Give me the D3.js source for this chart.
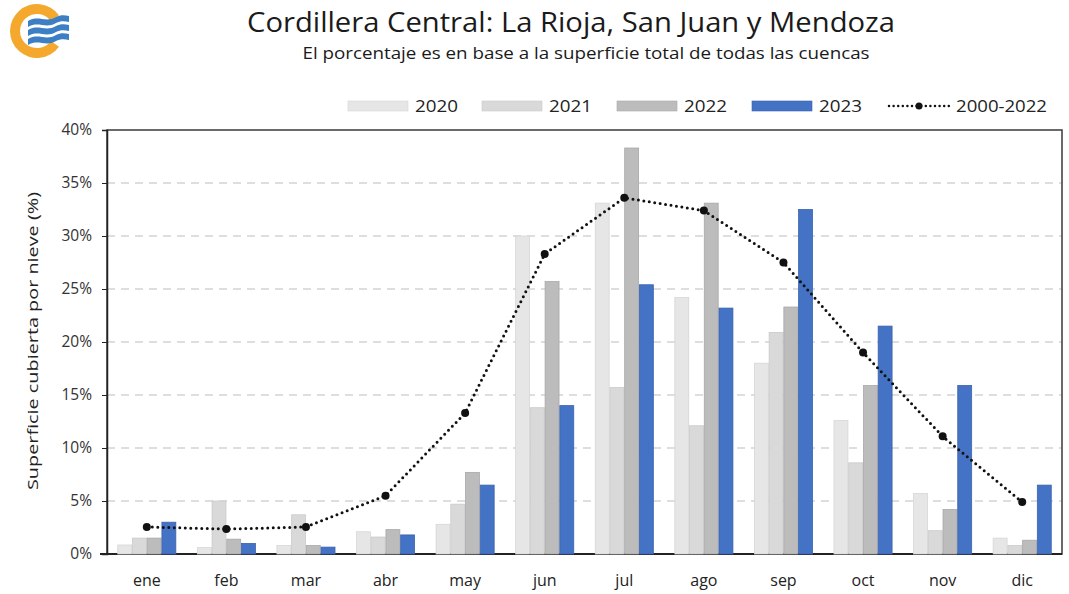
<!DOCTYPE html>
<html><head><meta charset="utf-8">
<script src="https://cdn.jsdelivr.net/npm/d3@7"></script>
<style>body{margin:0;background:#fff;}svg{display:block;}</style>
</head><body>
<svg id="c" width="1069" height="594"></svg>
<script>
const months = ["ene","feb","mar","abr","may","jun","jul","ago","sep","oct","nov","dic"];
const seriesNames = ["2020","2021","2022","2023"];
const v2020 = [0.85,0.6,0.8,2.1,2.8,30.0,33.1,24.2,18.0,12.6,5.7,1.5];
const v2021 = [1.5,5.0,3.7,1.6,4.7,13.8,15.7,12.1,20.9,8.6,2.2,0.8];
const v2022 = [1.5,1.4,0.8,2.3,7.7,25.7,38.3,33.1,23.3,15.9,4.2,1.3];
const v2023 = [3.0,1.0,0.65,1.8,6.5,14.0,25.4,23.2,32.5,21.5,15.9,6.5];
const avg = [2.55,2.35,2.55,5.5,13.3,28.3,33.6,32.4,27.5,19.0,11.1,4.9];
const yTicks = [0,5,10,15,20,25,30,35,40];
const lineName = "2000-2022";

const fills = ["#e6e6e6","#d9d9d9","#bcbcbc","#4472c4"];
const strokes = ["#d6d6d6","#cacaca","#a8a8a8","#3a63ad"];
const seriesVals = [v2020,v2021,v2022,v2023];

const svg = d3.select("#c");
const L=107,R=1062,T=130,B=554;
const x0 = d3.scaleBand().domain(months).range([L,R]).paddingInner(0.26).paddingOuter(0.13);
const x1 = d3.scaleBand().domain(seriesNames).range([0,x0.bandwidth()]);
const y = d3.scaleLinear().domain([0,40]).range([B,T]);

// logo
const lg = svg.append("g");
lg.append("path").attr("d", d3.arc()({innerRadius:17,outerRadius:27,startAngle:0.62,endAngle:2*Math.PI-0.62}))
  .attr("transform","translate(37,31) rotate(90)").attr("fill","#f4a92e");
[17,26,35].forEach(yy=>{
  lg.append("path").attr("d",`M28,${yy+4} C38,${yy-2} 46,${yy+6} 56,${yy} C60,${yy-2} 64,${yy-2} 69,${yy-1} L69,${yy+5} C64,${yy+4} 60,${yy+4} 56,${yy+6} C46,${yy+12} 38,${yy+4} 28,${yy+10} Z`).attr("fill","#3d7fc4");
});

// titles
svg.append("text").attr("x",571).attr("y",32).attr("text-anchor","middle")
  .attr("font-family","Open Sans, sans-serif").attr("font-size",27).attr("fill","#1a1a1a")
  .attr("textLength",648).attr("lengthAdjust","spacingAndGlyphs")
  .text("Cordillera Central: La Rioja, San Juan y Mendoza");
svg.append("text").attr("x",586).attr("y",59).attr("text-anchor","middle")
  .attr("font-family","Open Sans, sans-serif").attr("font-size",16).attr("fill","#1a1a1a")
  .attr("textLength",567).attr("lengthAdjust","spacingAndGlyphs")
  .text("El porcentaje es en base a la superficie total de todas las cuencas");

// gridlines
svg.append("g").selectAll("line").data(yTicks.filter(d=>d>0&&d<40)).join("line")
  .attr("x1",L).attr("x2",R).attr("y1",d=>y(d)).attr("y2",d=>y(d))
  .attr("stroke","#d3d3d3").attr("stroke-width",1.3).attr("stroke-dasharray","8,6");

// frame
svg.append("rect").attr("x",L).attr("y",T).attr("width",R-L).attr("height",B-T)
  .attr("fill","none").attr("stroke","#3a3a3a").attr("stroke-width",1.5);

// y axis
const ya = svg.append("g").attr("transform",`translate(${L},0)`)
  .call(d3.axisLeft(y).tickValues(yTicks).tickFormat(d=>d+"%").tickSize(5).tickPadding(10));
ya.select(".domain").attr("stroke","#222").attr("stroke-width",1.5);
ya.selectAll(".tick line").attr("stroke","#222");
ya.selectAll("text").attr("font-family","Open Sans, sans-serif").attr("font-size",15.5).attr("fill","#333");

// x axis
const xa = svg.append("g").attr("transform",`translate(0,${B})`)
  .call(d3.axisBottom(x0).tickSize(0).tickPadding(21));
xa.select(".domain").attr("stroke","#222").attr("stroke-width",2).attr("d",`M100,0H${R}`);
xa.selectAll("text").attr("font-family","Open Sans, sans-serif").attr("font-size",16).attr("fill","#222");

// y title
svg.append("text").attr("transform","translate(38,341) rotate(-90)").attr("text-anchor","middle")
  .attr("font-family","Open Sans, sans-serif").attr("font-size",15).attr("fill","#222")
  .attr("textLength",298).attr("lengthAdjust","spacingAndGlyphs")
  .text("Superficie cubierta por nieve (%)");

// bars
seriesNames.forEach((s,i)=>{
  svg.append("g").selectAll("rect").data(seriesVals[i]).join("rect")
    .attr("x",(d,j)=>x0(months[j])+x1(s)+0.4).attr("width",x1.bandwidth()-0.8)
    .attr("y",d=>y(d)).attr("height",d=>y(0)-y(d))
    .attr("fill",fills[i]).attr("stroke",strokes[i]).attr("stroke-width",0.8);
});

// average line
const cx = m => x0(m)+x0.bandwidth()/2;
const line = d3.line().x((d,j)=>cx(months[j])).y(d=>y(d));
svg.append("path").datum(avg).attr("d",line).attr("fill","none").attr("stroke","#111")
  .attr("stroke-width",3).attr("stroke-linecap","round").attr("stroke-dasharray","0,5.5");
svg.append("g").selectAll("circle").data(avg).join("circle")
  .attr("cx",(d,j)=>cx(months[j])).attr("cy",d=>y(d)).attr("r",4).attr("fill","#111");

// legend
const leg = svg.append("g").attr("font-family","Open Sans, sans-serif").attr("font-size",17).attr("fill","#222");
const legX = [348,482,617,752];
seriesNames.forEach((s,i)=>{
  leg.append("rect").attr("x",legX[i]).attr("y",101).attr("width",60).attr("height",10)
    .attr("fill",fills[i]).attr("stroke",strokes[i]).attr("stroke-width",0.6);
  leg.append("text").attr("x",legX[i]+67).attr("y",112).attr("textLength",43).attr("lengthAdjust","spacingAndGlyphs").text(s);
});
leg.append("line").attr("x1",889).attr("x2",950).attr("y1",106).attr("y2",106)
  .attr("stroke","#111").attr("stroke-width",2.5).attr("stroke-linecap","round").attr("stroke-dasharray","0,4.6");
leg.append("circle").attr("cx",919).attr("cy",106).attr("r",3.5).attr("fill","#111");
leg.append("text").attr("x",956).attr("y",112).attr("textLength",91).attr("lengthAdjust","spacingAndGlyphs").text(lineName);
</script>
</body></html>
